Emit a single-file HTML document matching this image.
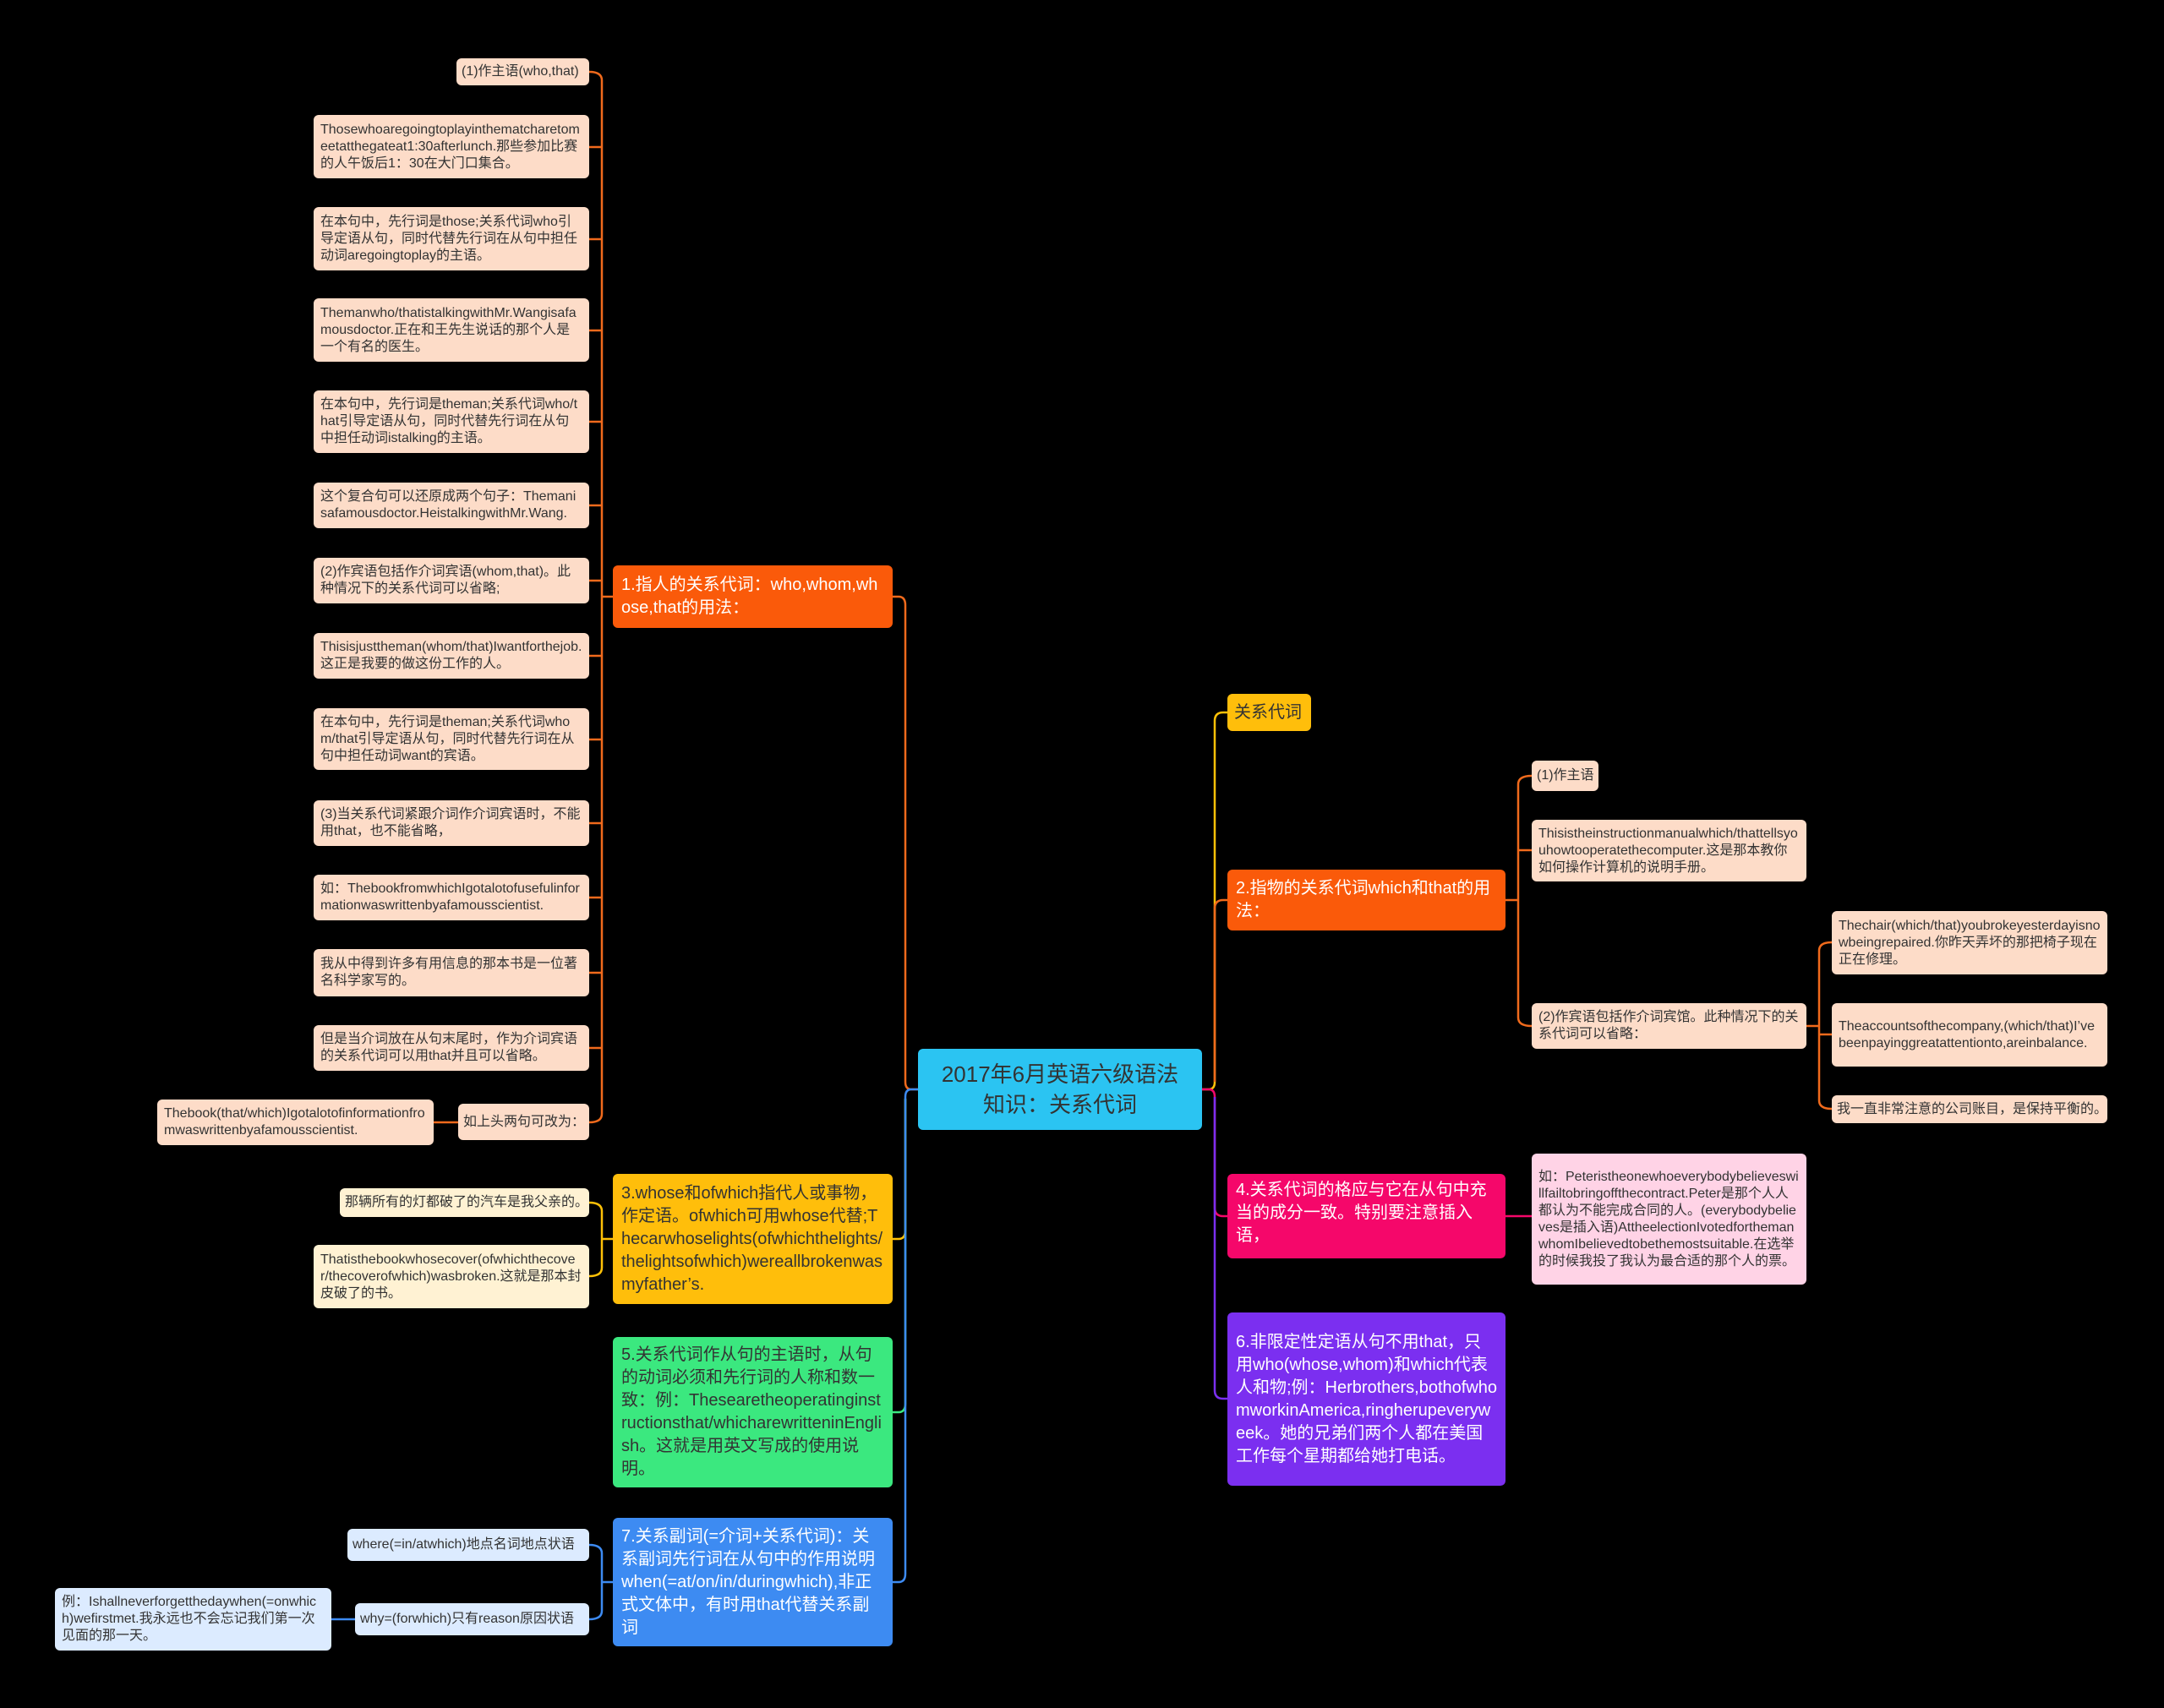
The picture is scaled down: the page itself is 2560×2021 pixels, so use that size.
<!DOCTYPE html>
<html><head><meta charset="utf-8"><style>
html,body{margin:0;padding:0;background:#000;}
body{width:2560px;height:2021px;position:relative;overflow:hidden;font-family:"Liberation Sans","Noto Sans CJK SC",sans-serif;}
.n{position:absolute;box-sizing:border-box;border-radius:6px;word-break:break-all;overflow:hidden;}
.l{background:#FDDCC8;color:#333;font-size:16px;line-height:20px;padding:5px 8px;display:flex;align-items:center;}
.nw{white-space:nowrap;word-break:keep-all;padding:5px 6px;}
.y{background:#FFF2D3;}
.b{background:#DCEBFF;}
.p{background:#FFD3E6;}
.m{font-size:20px;line-height:27px;padding:6px 10px;color:#fff;display:flex;align-items:center;}
svg{position:absolute;left:0;top:0;}
</style></head><body>
<svg width="2560" height="2021" fill="none" stroke-width="2.5">
<path d="M1086 1289 H1078 Q1071 1289 1071 1280 V716 Q1071 706 1063 706 H1056" stroke="#F06A1C"/>
<path d="M1071 1300 V1456 Q1071 1466 1063 1466 H1056" stroke="#FFC107"/>
<path d="M1071 1300 V1661 Q1071 1671 1063 1671 H1056" stroke="#3BE87F"/>
<path d="M1086 1289 H1078 Q1071 1289 1071 1298 V1862 Q1071 1872 1063 1872 H1056" stroke="#3D8BF2"/>
<g stroke="#F06A1C">
<path d="M725 706 H712"/>
<path d="M712 95 V1318"/>
<path d="M697 85 Q712 85 712 95"/>
<path d="M712 1318 Q712 1328 697 1328"/>
<path d="M697 174 H712 M697 283 H712 M697 391 H712 M697 499 H712 M697 598 H712 M697 687 H712 M697 776 H712 M697 875 H712 M697 974 H712 M697 1062 H712 M697 1151 H712 M697 1240 H712"/>
<path d="M513 1328 H542"/>
</g>
<g stroke="#FFC107"><path d="M725 1466 H712 M697 1423 Q712 1423 712 1433 V1500 Q712 1510 697 1510"/></g>
<g stroke="#3D8BF2"><path d="M725 1872 H712 M697 1828 Q712 1828 712 1838 V1906 Q712 1916 697 1916 M392 1916 H420"/></g>
<path d="M1422 1289 H1430 Q1437 1289 1437 1280 V853 Q1437 843 1447 843 H1452" stroke="#FFC107"/>
<path d="M1437 1280 V1075 Q1437 1065 1447 1065 H1452" stroke="#F06A1C"/>
<path d="M1422 1289 H1430 Q1437 1289 1437 1298 V1429 Q1437 1439 1447 1439 H1452" stroke="#F5076A"/>
<path d="M1437 1298 V1645 Q1437 1655 1447 1655 H1452" stroke="#7B2FF0"/>
<g stroke="#F06A1C"><path d="M1781 1065 H1796 M1812 918 Q1796 918 1796 928 V1204 Q1796 1214 1812 1214 M1796 1006 H1812"/>
<path d="M2137 1214 H2152 M2167 1115 Q2152 1115 2152 1125 V1302 Q2152 1312 2167 1312 M2152 1224 H2167"/></g>
<path d="M1781 1439 H1812" stroke="#F5076A"/>
</svg>

<div class="n l nw" style="left:540px;top:69px;width:157px;height:32px;">(1)作主语(who,that)</div>
<div class="n l" style="left:371px;top:136px;width:326px;height:75px;">Thosewhoaregoingtoplayinthematcharetomeetatthegateat1:30afterlunch.那些参加比赛的人午饭后1：30在大门口集合。</div>
<div class="n l" style="left:371px;top:245px;width:326px;height:75px;">在本句中，先行词是those;关系代词who引导定语从句，同时代替先行词在从句中担任动词aregoingtoplay的主语。</div>
<div class="n l" style="left:371px;top:353px;width:326px;height:75px;">Themanwho/thatistalkingwithMr.Wangisafamousdoctor.正在和王先生说话的那个人是一个有名的医生。</div>
<div class="n l" style="left:371px;top:462px;width:326px;height:74px;">在本句中，先行词是theman;关系代词who/that引导定语从句，同时代替先行词在从句中担任动词istalking的主语。</div>
<div class="n l" style="left:371px;top:571px;width:326px;height:54px;">这个复合句可以还原成两个句子：Themanisafamousdoctor.HeistalkingwithMr.Wang.</div>
<div class="n l" style="left:371px;top:660px;width:326px;height:54px;">(2)作宾语包括作介词宾语(whom,that)。此种情况下的关系代词可以省略;</div>
<div class="n l" style="left:371px;top:749px;width:326px;height:54px;">Thisisjusttheman(whom/that)Iwantforthejob.这正是我要的做这份工作的人。</div>
<div class="n l" style="left:371px;top:838px;width:326px;height:73px;">在本句中，先行词是theman;关系代词whom/that引导定语从句，同时代替先行词在从句中担任动词want的宾语。</div>
<div class="n l" style="left:371px;top:947px;width:326px;height:54px;">(3)当关系代词紧跟介词作介词宾语时，不能用that，也不能省略，</div>
<div class="n l" style="left:371px;top:1035px;width:326px;height:54px;">如：ThebookfromwhichIgotalotofusefulinformationwaswrittenbyafamousscientist.</div>
<div class="n l" style="left:371px;top:1123px;width:326px;height:56px;">我从中得到许多有用信息的那本书是一位著名科学家写的。</div>
<div class="n l" style="left:371px;top:1213px;width:326px;height:54px;">但是当介词放在从句末尾时，作为介词宾语的关系代词可以用that并且可以省略。</div>
<div class="n l nw" style="left:542px;top:1306px;width:155px;height:43px;">如上头两句可改为：</div>
<div class="n l" style="left:186px;top:1301px;width:327px;height:54px;">Thebook(that/which)Igotalotofinformationfromwaswrittenbyafamousscientist.</div>

<div class="n m" style="left:725px;top:669px;width:331px;height:74px;background:#FA5A0A;">1.指人的关系代词：who,whom,whose,that的用法：</div>
<div class="n m" style="left:1086px;top:1241px;width:336px;height:96px;background:#2BC4F2;color:#333;font-size:26px;line-height:36px;justify-content:center;text-align:center;">2017年6月英语六级语法<br>知识：关系代词</div>

<div class="n l y nw" style="left:402px;top:1406px;width:295px;height:34px;">那辆所有的灯都破了的汽车是我父亲的。</div>
<div class="n l y" style="left:371px;top:1473px;width:326px;height:75px;">Thatisthebookwhosecover(ofwhichthecover/thecoverofwhich)wasbroken.这就是那本封皮破了的书。</div>
<div class="n m" style="left:725px;top:1389px;width:331px;height:154px;background:#FFBE0B;color:#333;">3.whose和ofwhich指代人或事物，作定语。ofwhich可用whose代替;Thecarwhoselights(ofwhichthelights/thelightsofwhich)wereallbrokenwasmyfather’s.</div>
<div class="n m" style="left:725px;top:1582px;width:331px;height:178px;background:#3BE87F;color:#333;">5.关系代词作从句的主语时，从句的动词必须和先行词的人称和数一致：例：Thesearetheoperatinginstructionsthat/whicharewritteninEnglish。这就是用英文写成的使用说明。</div>
<div class="n m" style="left:725px;top:1796px;width:331px;height:152px;background:#3D8BF2;">7.关系副词(=介词+关系代词)：关系副词先行词在从句中的作用说明when(=at/on/in/duringwhich),非正式文体中，有时用that代替关系副词</div>
<div class="n l b nw" style="left:411px;top:1809px;width:286px;height:38px;">where(=in/atwhich)地点名词地点状语</div>
<div class="n l b nw" style="left:420px;top:1897px;width:277px;height:38px;">why=(forwhich)只有reason原因状语</div>
<div class="n l b" style="left:65px;top:1879px;width:327px;height:74px;">例：Ishallneverforgetthedaywhen(=onwhich)wefirstmet.我永远也不会忘记我们第一次见面的那一天。</div>

<div class="n m nw" style="left:1452px;top:821px;width:99px;height:44px;background:#FFBE0B;color:#333;padding:6px 8px;">关系代词</div>
<div class="n m" style="left:1452px;top:1029px;width:329px;height:72px;background:#FA5A0A;">2.指物的关系代词which和that的用法：</div>
<div class="n l nw" style="left:1812px;top:900px;width:79px;height:36px;">(1)作主语</div>
<div class="n l" style="left:1812px;top:970px;width:325px;height:73px;">Thisistheinstructionmanualwhich/thattellsyouhowtooperatethecomputer.这是那本教你如何操作计算机的说明手册。</div>
<div class="n l" style="left:1812px;top:1187px;width:325px;height:54px;">(2)作宾语包括作介词宾馆。此种情况下的关系代词可以省略：</div>
<div class="n l" style="left:2167px;top:1078px;width:326px;height:75px;">Thechair(which/that)youbrokeyesterdayisnowbeingrepaired.你昨天弄坏的那把椅子现在正在修理。</div>
<div class="n l" style="left:2167px;top:1187px;width:326px;height:75px;">Theaccountsofthecompany,(which/that)I’vebeenpayinggreatattentionto,areinbalance.</div>
<div class="n l nw" style="left:2167px;top:1296px;width:326px;height:33px;">我一直非常注意的公司账目，是保持平衡的。</div>
<div class="n m" style="left:1452px;top:1389px;width:329px;height:100px;background:#F5076A;align-items:flex-start;">4.关系代词的格应与它在从句中充当的成分一致。特别要注意插入语，</div>
<div class="n l p" style="left:1812px;top:1365px;width:325px;height:155px;">如：Peteristheonewhoeverybodybelieveswillfailtobringoffthecontract.Peter是那个人人都认为不能完成合同的人。(everybodybelieves是插入语)AttheelectionIvotedforthemanwhomIbelievedtobethemostsuitable.在选举的时候我投了我认为最合适的那个人的票。</div>
<div class="n m" style="left:1452px;top:1553px;width:329px;height:205px;background:#7B2FF0;">6.非限定性定语从句不用that，只用who(whose,whom)和which代表人和物;例：Herbrothers,bothofwhomworkinAmerica,ringherupeveryweek。她的兄弟们两个人都在美国工作每个星期都给她打电话。</div>
</body></html>
